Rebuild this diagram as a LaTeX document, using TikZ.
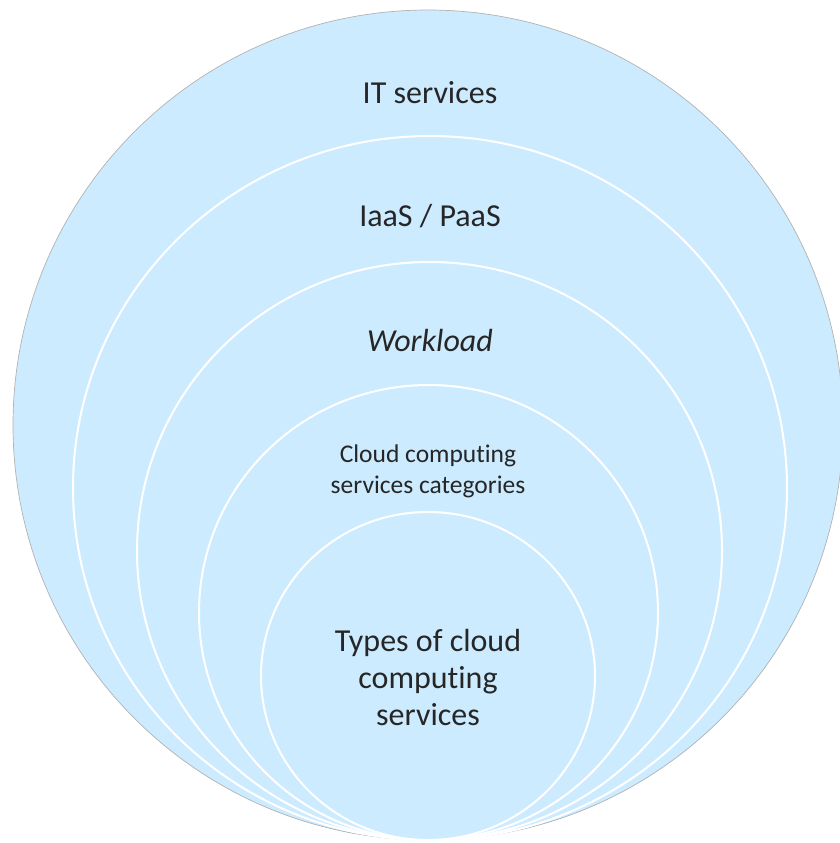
\documentclass[tikz,border=0pt]{standalone}
\usepackage{fontspec}
\setmainfont{Carlito}[Ligatures={NoCommon}]
\definecolor{ringfill}{RGB}{204,235,255}
\definecolor{txt}{RGB}{38,38,38}
\begin{document}
\begin{tikzpicture}[x=1pt,y=-1pt,
  ring/.style={fill=ringfill,draw=white,line width=2pt},
  outerring/.style={fill=ringfill,draw=black!30,line width=0.7pt},
  lbl/.style={text=txt,font=\fontsize{32}{37}\selectfont,align=center,inner sep=0pt,anchor=base},
  smalllbl/.style={text=txt,font=\fontsize{25.5}{30.5}\selectfont,align=center,inner sep=0pt,anchor=base}]
\useasboundingbox (0,0) rectangle (840,843);
\path[outerring] (428,425) ellipse [x radius=415,y radius=415];
\path[ring] (430,488) ellipse [x radius=357,y radius=352];
\path[ring] (429.5,551) ellipse [x radius=292.5,y radius=289];
\path[ring] (428.5,612.5) ellipse [x radius=229.5,y radius=227.5];
\path[ring] (428,676) ellipse [x radius=167,y radius=164];
\node[lbl] (it) at (430,103) {IT services};
\node[lbl] (iaas) at (430,226) {IaaS / PaaS};
\node[lbl] (wl) at (430,351) {\itshape Workload};
\node[smalllbl] (ccc) at (428,493) {Cloud computing\\services categories};
\node[lbl] (types) at (428,725) {Types of cloud\\computing\\services};
\end{tikzpicture}
\end{document}
